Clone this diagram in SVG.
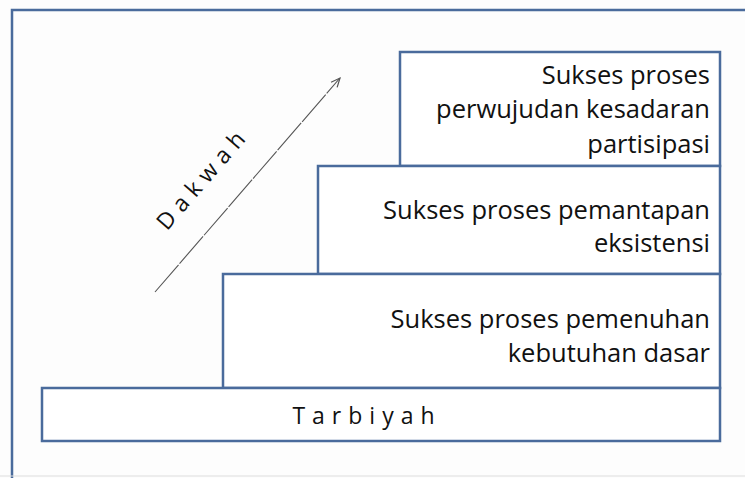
<svg xmlns="http://www.w3.org/2000/svg" width="745" height="478" viewBox="0 0 745 478">
<defs>
<style>
.box{fill:#ffffff;stroke:#4a6b9c;stroke-width:2.5}
.frame{fill:none;stroke:#4a6b9c;stroke-width:2.5}
.t{font-family:"Open Sans","Liberation Sans",sans-serif;font-size:25.5px;fill:#111;text-anchor:end}
.sp{font-family:"Open Sans","Liberation Sans",sans-serif;font-size:23px;fill:#111;letter-spacing:7px}
</style>
<marker id="ah" markerWidth="12" markerHeight="12" refX="10" refY="5" orient="auto" markerUnits="userSpaceOnUse">
<path d="M1,1 L10,5 L1,9" fill="none" stroke="#555" stroke-width="1.2"/>
</marker>
</defs>
<rect width="745" height="478" fill="#fdfdfd"/>
<path class="frame" d="M12,478 L12,10 L745,10"/>
<line x1="0" y1="476" x2="745" y2="476" stroke="#ddd" stroke-width="1"/>
<g id="connectors">
<line x1="155" y1="292" x2="340" y2="78" stroke="#555" stroke-width="1.1" stroke-dasharray="36 1.5" marker-end="url(#ah)"/>
</g>
<g id="dakwah">
<text class="sp" transform="translate(209,183) rotate(-49)" text-anchor="middle">Dakwah</text>
</g>
<g id="top">
<rect class="box" x="400" y="52" width="320" height="114"/>
<text class="t" x="710" y="84">Sukses proses</text>
<text class="t" x="710" y="118">perwujudan kesadaran</text>
<text class="t" x="710" y="153">partisipasi</text>
</g>
<g id="middle">
<rect class="box" x="318" y="166" width="402" height="108"/>
<text class="t" x="710" y="219">Sukses proses pemantapan</text>
<text class="t" x="710" y="252">eksistensi</text>
</g>
<g id="lower">
<rect class="box" x="223" y="274" width="497" height="114"/>
<text class="t" x="710" y="328">Sukses proses pemenuhan</text>
<text class="t" x="710" y="362">kebutuhan dasar</text>
</g>
<g id="tarbiyah">
<rect class="box" x="42" y="388" width="678" height="53"/>
<text class="sp" x="367" y="424" text-anchor="middle">Tarbiyah</text>
</g>
</svg>
